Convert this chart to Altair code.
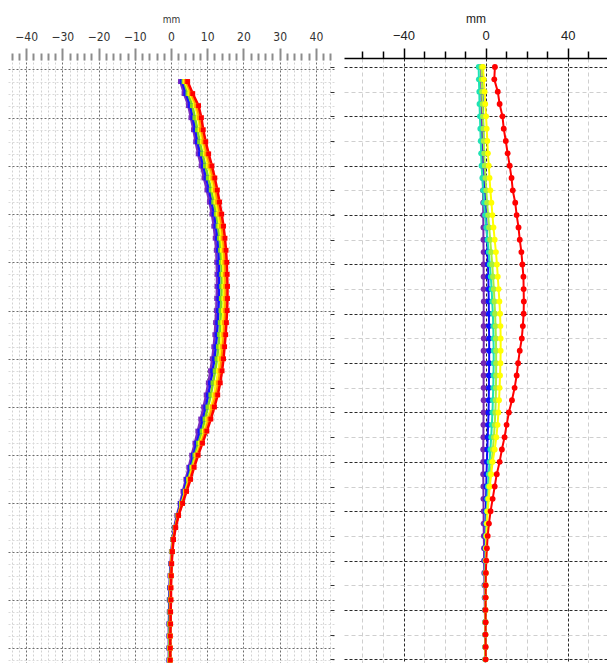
import altair as alt
import pandas as pd

# ---------------- data ----------------
depth_left = [0.5, 1.0, 1.5, 2.0, 2.5, 3.0, 3.5, 4.0, 4.5, 5.0, 5.5, 6.0, 6.5, 7.0, 7.5, 8.0,
              8.5, 9.0, 9.5, 10.0, 10.5, 11.0, 11.5, 12.0, 12.5, 13.0, 13.5, 14.0, 14.5, 15.0,
              15.5, 16.0, 16.5, 17.0, 17.5, 18.0, 18.5, 19.0, 19.5, 20.0, 20.5, 21.0, 21.5,
              22.0, 22.5, 23.0, 23.5, 24.0, 24.5]

left_purple = [2.6, 3.6, 4.8, 5.5, 6.2, 6.8, 7.5, 8.3, 9.1, 9.9, 10.6, 11.3, 11.8, 12.2, 12.5, 12.6,
               12.7, 12.7, 12.6, 12.5, 12.3, 12.1, 11.8, 11.4, 10.9, 10.3, 9.7, 9.0, 8.2, 7.4,
               6.6, 5.7, 4.9, 4.1, 3.3, 2.5, 1.6, 0.9, 0.4, 0.1, -0.1, -0.3, -0.4, -0.5, -0.5,
               -0.6, -0.6, -0.6, -0.6]
left_blue = [3.1, 4.1, 5.3, 6.0, 6.7, 7.3, 8.1, 8.9, 9.7, 10.5, 11.2, 11.9, 12.4, 12.8, 13.1, 13.2,
             13.3, 13.3, 13.2, 13.1, 12.9, 12.7, 12.4, 12.0, 11.5, 10.9, 10.3, 9.6, 8.8, 8.0,
             7.1, 6.2, 5.3, 4.4, 3.6, 2.7, 1.8, 1.0, 0.5, 0.2, 0.0, -0.2, -0.3, -0.4, -0.4,
             -0.5, -0.5, -0.5, -0.5]
left_green = [3.6, 4.7, 5.9, 6.6, 7.3, 7.9, 8.7, 9.5, 10.3, 11.1, 11.8, 12.5, 13.0, 13.4, 13.7, 13.9,
              14.0, 14.0, 13.9, 13.8, 13.6, 13.4, 13.1, 12.7, 12.2, 11.6, 11.0, 10.2, 9.4, 8.6,
              7.6, 6.6, 5.7, 4.8, 3.9, 2.9, 1.9, 1.1, 0.6, 0.3, 0.1, -0.1, -0.2, -0.3, -0.3,
              -0.4, -0.4, -0.4, -0.4]
left_yellow = [3.9, 5.2, 6.7, 7.5, 8.0, 8.7, 9.5, 10.3, 11.1, 11.8, 12.4, 13.0, 13.5, 13.9, 14.2, 14.4,
               14.5, 14.6, 14.6, 14.5, 14.3, 14.1, 13.8, 13.5, 13.1, 12.5, 11.9, 11.1, 10.1, 9.2,
               8.1, 7.0, 6.0, 5.0, 4.0, 3.0, 2.0, 1.2, 0.6, 0.3, 0.1, 0.0, -0.1, -0.1, -0.2,
               -0.2, -0.3, -0.3, -0.3]
left_orange = [4.2, 5.6, 7.1, 7.9, 8.4, 9.1, 9.9, 10.8, 11.6, 12.3, 12.9, 13.5, 14.0, 14.4, 14.7, 14.9,
               15.0, 15.1, 15.1, 15.0, 14.8, 14.6, 14.3, 14.0, 13.6, 13.1, 12.4, 11.5, 10.5, 9.5,
               8.4, 7.2, 6.2, 5.2, 4.1, 3.1, 2.0, 1.2, 0.6, 0.3, 0.1, 0.0, -0.1, -0.1, -0.2,
               -0.2, -0.2, -0.2, -0.2]
left_red = [4.6, 6.0, 7.6, 8.4, 8.9, 9.6, 10.4, 11.3, 12.1, 12.8, 13.4, 14.0, 14.5, 14.9, 15.2, 15.4,
            15.5, 15.6, 15.6, 15.5, 15.3, 15.1, 14.8, 14.5, 14.1, 13.6, 12.9, 12.0, 11.0, 9.9,
            8.7, 7.5, 6.4, 5.4, 4.3, 3.2, 2.1, 1.3, 0.7, 0.4, 0.2, 0.1, 0.0, 0.0, -0.1,
            -0.1, -0.2, -0.2, -0.2]

depth_right = [0.0, 0.5, 1.0, 1.5, 2.0, 2.5, 3.0, 3.5, 4.0, 4.5, 5.0, 5.5, 6.0, 6.5, 7.0, 7.5,
               8.0, 8.5, 9.0, 9.5, 10.0, 10.5, 11.0, 11.5, 12.0, 12.5, 13.0, 13.5, 14.0, 14.5,
               15.0, 15.5, 16.0, 16.5, 17.0, 17.5, 18.0, 18.5, 19.0, 19.5, 20.0, 20.5, 21.0,
               21.5, 22.0, 22.5, 23.0, 23.5, 24.0]

right_purple = [-2.2, -2.2, -2.1, -2.0, -1.9, -1.8, -1.7, -1.6, -1.5, -1.4, -1.3, -1.2, -1.2, -1.1,
                -1.1, -1.0, -1.0, -1.0, -1.0, -0.9, -1.0, -1.0, -0.9, -1.0, -1.0, -1.0, -1.0, -1.0,
                -1.0, -1.1, -1.1, -1.2, -1.2, -1.2, -1.1, -1.1, -1.0, -1.0, -0.9, -0.8, -0.8, -0.7,
                -0.6, -0.5, -0.4, -0.3, -0.3, -0.2, -0.2]
right_blue = [-1.7, -1.6, -1.5, -1.4, -1.3, -1.2, -1.0, -0.9, -0.7, -0.5, -0.3, 0.0, 0.2, 0.5, 0.7,
              0.9, 1.1, 1.3, 1.4, 1.5, 1.6, 1.6, 1.7, 1.7, 1.7, 1.6, 1.6, 1.5, 1.4, 1.2, 1.0, 0.8,
              0.6, 0.4, 0.3, 0.2, 0.1, 0.0, -0.1, -0.2, -0.3, -0.3, -0.3, -0.3, -0.3, -0.2, -0.2,
              -0.2, -0.2]
right_teal = [-3.4, -3.3, -3.1, -3.0, -2.8, -2.6, -2.4, -2.2, -2.0, -1.6, -1.2, -0.8, -0.3, 0.3, 0.9,
              1.5, 2.0, 2.5, 2.9, 3.2, 3.5, 3.7, 3.8, 3.9, 3.9, 3.8, 3.7, 3.5, 3.3, 3.0, 2.7, 2.3,
              1.9, 1.5, 1.1, 0.8, 0.5, 0.3, 0.1, 0.0, -0.1, -0.2, -0.2, -0.2, -0.2, -0.2, -0.2,
              -0.2, -0.2]
right_green = [-2.0, -1.9, -1.7, -1.5, -1.3, -1.1, -0.9, -0.7, -0.4, -0.1, 0.3, 0.7, 1.2, 1.7, 2.2,
               2.7, 3.2, 3.6, 4.0, 4.3, 4.6, 4.8, 5.0, 5.1, 5.1, 5.1, 5.0, 4.9, 4.7, 4.4, 4.0, 3.5,
               2.9, 2.3, 1.7, 1.2, 0.8, 0.5, 0.3, 0.1, 0.0, -0.1, -0.1, -0.1, -0.1, -0.1, -0.1,
               -0.1, -0.1]
right_yellow = [-1.3, -0.9, -0.5, -0.2, 0.2, 0.5, 0.8, 1.1, 1.5, 1.9, 2.3, 2.8, 3.3, 3.8, 4.4, 5.0,
                5.5, 5.9, 6.3, 6.7, 7.0, 7.2, 7.3, 7.3, 7.2, 7.0, 6.8, 6.5, 6.2, 5.8, 5.2, 4.4,
                3.4, 2.7, 2.0, 1.5, 1.0, 0.7, 0.5, 0.3, 0.2, 0.1, 0.0, 0.0, -0.1, -0.1, -0.1,
                -0.1, -0.1]
right_red = [4.5, 4.2, 5.9, 6.8, 8.2, 8.8, 9.8, 10.7, 11.7, 12.6, 13.2, 14.4, 15.1, 16.0, 16.6, 17.4,
             17.9, 18.4, 18.5, 18.6, 18.5, 18.1, 17.6, 16.6, 15.8, 15.1, 14.1, 12.8, 11.3, 10.2,
             9.2, 7.9, 6.8, 5.4, 4.4, 3.4, 2.4, 1.6, 1.0, 0.6, 0.3, 0.1, 0.0, 0.0, -0.1, 0.0,
             -0.1, 0.0, 0.0]

left_names = ["L1", "L2", "L3", "L4", "L5", "L6"]
left_colors = ["#7a2cc0", "#1414ff", "#7fd81e", "#ffff00", "#ff9a00", "#ff0000"]
right_names = ["R1", "R2", "R3", "R4", "R5", "R6"]
right_colors = ["#7428b0", "#1010ff", "#1ee3b4", "#a8f03c", "#ffff00", "#ff0000"]

# tick positions
x_ticks_left = list(range(-44, 45, 2))
y_grid_left = [i * 0.5 for i in range(0, 50)]
x_ticks_right = list(range(-60, 61, 10))
y_grid_right = list(range(0, 25))


def frame(depths, names, series):
    rows = []
    for k, (name, vals) in enumerate(zip(names, series)):
        for d, v in zip(depths, vals):
            rows.append({"series": name, "k": k, "depth": d, "disp": v})
    return pd.DataFrame(rows)


df_left = frame(depth_left, left_names,
                [left_purple, left_blue, left_green, left_yellow, left_orange, left_red])
df_right = frame(depth_right, right_names,
                 [right_purple, right_blue, right_teal, right_green, right_yellow, right_red])

NARROW = "Liberation Sans Narrow, DejaVu Sans Condensed, Arial Narrow, sans-serif"
SANS = "Liberation Sans, Arial, sans-serif"

# ---------------- left panel ----------------
xL = alt.X(
    "disp:Q",
    scale=alt.Scale(domain=[-45, 45], nice=False, zero=False),
    axis=alt.Axis(
        orient="top", values=x_ticks_left, offset=-2, domain=False,
        grid=True,
        gridColor={"condition": {"test": "datum.value % 10 === 0", "value": "#6e6e6e"}, "value": "#d2d2d2"},
        gridDash=[2, 2], gridWidth=1,
        ticks=True, tickColor="#8c8c8c", tickWidth=2,
        tickSize={"condition": {"test": "datum.value % 10 === 0", "value": 12}, "value": 7},
        labelExpr="datum.value % 10 === 0 ? datum.label : ''",
        labelOverlap=False, labelFlush=False,
        labelFont=NARROW, labelFontSize=12, labelColor="#333333", labelPadding=5,
        title="mm", titleFont=NARROW, titleFontSize=10, titleFontWeight="normal",
        titleColor="#333333", titlePadding=6,
    ),
)
yL = alt.Y(
    "depth:Q",
    scale=alt.Scale(domain=[-0.476, 24.62], reverse=True, nice=False, zero=False),
    axis=alt.Axis(
        orient="left", values=y_grid_left, domain=False, ticks=False, labels=False, title=None,
        grid=True,
        gridColor={"condition": {"test": "datum.value % 2 === 0", "value": "#6e6e6e"}, "value": "#dadada"},
        gridDash=[2, 2], gridWidth=1,
    ),
)
colL = alt.Color("series:N", scale=alt.Scale(domain=left_names, range=left_colors), legend=None)

baseL = alt.Chart(df_left)
left = alt.layer(
    baseL.mark_line(strokeWidth=2.5, clip=True).encode(x=xL, y=yL, color=colL, order=alt.Order("depth:Q")),
    baseL.mark_point(shape="square", filled=True, size=24, opacity=1, clip=True).encode(x=xL, y=yL, color=colL),
).properties(width=326, height=605)

# ---------------- right panel ----------------
xR = alt.X(
    "disp:Q",
    scale=alt.Scale(domain=[-69, 59.1], nice=False, zero=False),
    axis=alt.Axis(
        orient="top", values=x_ticks_right, domain=True, domainColor="#000000", domainWidth=1.5,
        grid=True,
        gridColor={"condition": {"test": "datum.value % 40 === 0", "value": "#2a2a2a"}, "value": "#cfcfcf"},
        gridDash={"condition": {"test": "datum.value % 40 === 0", "value": [3, 2]}, "value": [4, 3]},
        gridWidth=1,
        ticks=True, tickColor="#000000", tickWidth=1.5,
        tickSize={"condition": {"test": "datum.value % 40 === 0", "value": 10}, "value": 7},
        labelExpr="datum.value % 40 === 0 ? datum.label : ''",
        labelOverlap=False, labelFlush=False,
        labelFont=SANS, labelFontSize=13, labelColor="#222222", labelPadding=6,
        title="mm", titleFont=SANS, titleFontSize=12, titleFontWeight="normal",
        titleColor="#222222", titlePadding=4,
    ),
)
yR = alt.Y(
    "depth:Q",
    scale=alt.Scale(domain=[-0.363, 24.15], reverse=True, nice=False, zero=False),
    axis=alt.Axis(
        orient="left", values=y_grid_right, domain=False, labels=False, title=None,
        ticks=True, tickSize=4, tickColor="#333333", tickWidth=1, offset=10,
        grid=True,
        gridColor={"condition": {"test": "datum.value % 2 === 0", "value": "#2a2a2a"}, "value": "#cfcfcf"},
        gridDash={"condition": {"test": "datum.value % 2 === 0", "value": [3, 2]}, "value": [4, 3]},
        gridWidth=1,
    ),
)
colR = alt.Color("series:N", scale=alt.Scale(domain=right_names, range=right_colors), legend=None)

baseR = alt.Chart(df_right)
right = alt.layer(
    baseR.mark_line(strokeWidth=2, clip=True).encode(x=xR, y=yR, color=colR, order=alt.Order("depth:Q")),
    baseR.mark_circle(size=34, opacity=1, clip=True).encode(x=xR, y=yR, color=colR),
).properties(width=263, height=605)

chart = alt.hconcat(left, right, spacing=10, bounds="flush").resolve_scale(
    x="independent", y="independent", color="independent"
).properties(
    padding={"left": 0, "top": 4, "right": 0, "bottom": 0},
    background="white",
).configure_view(stroke=None)

chart.save("out.html", embed_options={"renderer": "svg", "actions": False})
